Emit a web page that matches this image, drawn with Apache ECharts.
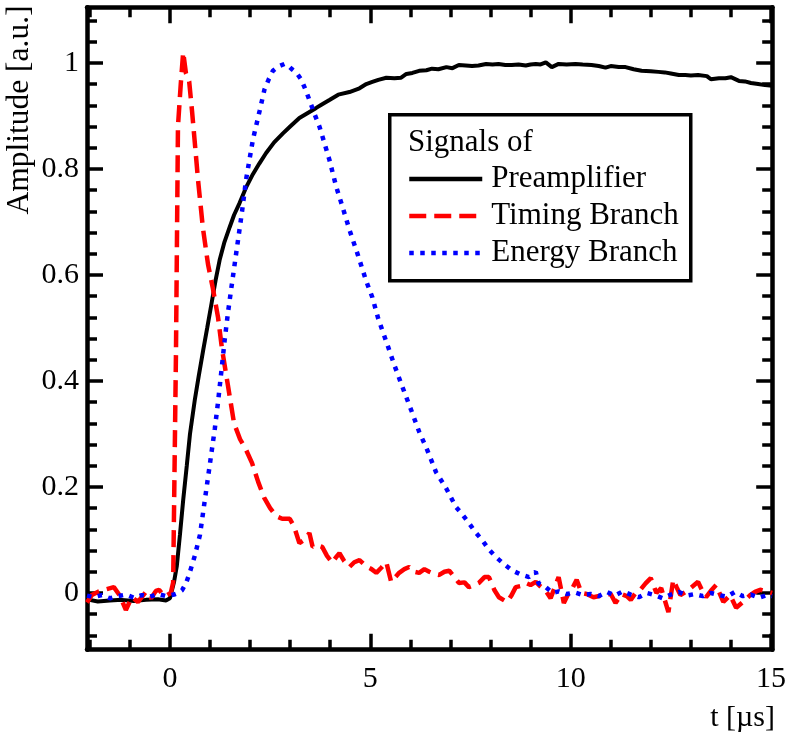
<!DOCTYPE html>
<html>
<head>
<meta charset="utf-8">
<script src="https://cdn.jsdelivr.net/npm/echarts@6/dist/echarts.min.js"></script>
<style>html,body{margin:0;padding:0;background:#fff}#c{width:789px;height:734px}</style>
</head>
<body>
<div id="c"></div>
<script>
// ---- data ----
const preampT = [-2.07,-1.8,-1.5,-1.2,-0.9,-0.6,-0.3,-0.1,0.0,0.05,0.1,0.17,0.25,0.33,0.42,0.5,0.62,0.72,0.83,0.93,1.04,1.14,1.24,1.36,1.49,1.6,1.74,1.9,2.07,2.23,2.4,2.6,2.82,3.0,3.23,3.45,3.65,3.8,3.98,4.2,4.48,4.73,4.9,5.05,5.2,5.4,5.6,5.77,5.9,6.05,6.22,6.4,6.54,6.7,6.9,7.05,7.21,7.38,7.54,7.7,7.89,8.05,8.2,8.37,8.53,8.7,8.88,9.0,9.13,9.25,9.38,9.53,9.7,9.9,10.12,10.3,10.52,10.7,10.87,11.0,11.2,11.37,11.57,11.77,12.0,12.19,12.35,12.5,12.7,12.86,13.0,13.18,13.4,13.5,13.7,13.86,14.0,14.2,14.35,14.5,14.68,14.85,15.03];
const preampV = [-0.012,-0.016,-0.014,-0.013,-0.015,-0.013,-0.012,-0.014,-0.01,0.005,0.02,0.05,0.11,0.175,0.24,0.30,0.364,0.41,0.458,0.50,0.547,0.59,0.628,0.662,0.69,0.713,0.736,0.765,0.79,0.81,0.83,0.85,0.867,0.88,0.896,0.906,0.915,0.922,0.93,0.94,0.945,0.952,0.96,0.964,0.968,0.972,0.971,0.972,0.979,0.981,0.985,0.986,0.989,0.988,0.992,0.99,0.996,0.995,0.994,0.995,0.998,0.997,0.998,0.996,0.996,0.997,0.995,0.997,0.998,0.997,1.001,0.992,0.998,0.997,0.998,0.997,0.996,0.994,0.991,0.994,0.992,0.992,0.988,0.985,0.984,0.983,0.982,0.98,0.977,0.977,0.976,0.977,0.975,0.969,0.971,0.971,0.973,0.966,0.965,0.962,0.96,0.958,0.957];

const timingT = [-2.07,-1.95,-1.8,-1.64,-1.4,-1.25,-1.1,-0.95,-0.8,-0.6,-0.47,-0.35,-0.27,-0.15,-0.07,0.02,0.08,0.15,0.2,0.27,0.33,0.4,0.48,0.55,0.62,0.7,0.82,0.95,1.07,1.2,1.3,1.45,1.6,1.75,1.9,2.05,2.2,2.35,2.5,2.65,2.8,2.99,3.1,3.23,3.35,3.48,3.56,3.68,3.8,3.92,4.05,4.15,4.23,4.35,4.48,4.6,4.73,4.9,5.03,5.15,5.28,5.4,5.52,5.72,5.85,5.97,6.1,6.22,6.35,6.47,6.6,6.72,6.85,6.97,7.1,7.21,7.35,7.46,7.6,7.71,7.85,7.96,8.1,8.21,8.41,8.52,8.63,8.75,8.88,9.0,9.13,9.25,9.38,9.5,9.7,9.83,9.95,10.05,10.15,10.27,10.4,10.57,10.75,10.88,11.0,11.12,11.27,11.4,11.5,11.62,11.74,11.87,12.0,12.14,12.26,12.44,12.56,12.65,12.74,12.87,12.99,13.18,13.28,13.38,13.5,13.63,13.81,13.98,14.13,14.3,14.48,14.6,14.73,14.93,15.03];
const timingV = [-0.018,-0.004,0.002,0.006,0.011,-0.005,-0.032,-0.008,-0.017,0.002,-0.01,0.004,0.006,-0.006,-0.004,0.0,0.02,0.45,0.88,0.96,1.02,0.98,0.965,0.91,0.85,0.78,0.69,0.62,0.575,0.52,0.46,0.39,0.32,0.29,0.27,0.245,0.21,0.18,0.16,0.145,0.14,0.14,0.125,0.094,0.1,0.113,0.087,0.09,0.087,0.07,0.057,0.068,0.075,0.06,0.049,0.058,0.062,0.05,0.045,0.038,0.048,0.058,0.021,0.038,0.045,0.049,0.04,0.038,0.045,0.04,0.036,0.034,0.04,0.042,0.03,0.019,0.02,0.011,0.015,0.019,0.03,0.03,0.005,-0.008,-0.017,-0.005,0.011,0.013,0.019,0.015,0.021,0.012,0.004,-0.01,0.03,-0.019,0.0,0.01,0.025,0.0,-0.002,-0.008,-0.005,-0.003,-0.002,-0.019,-0.002,-0.006,-0.013,0.0,0.006,0.018,0.028,0.0,0.009,-0.036,0.025,0.01,-0.004,0.002,0.009,0.021,0.005,-0.008,0.004,0.015,-0.017,-0.004,-0.028,-0.017,-0.004,0.002,0.006,0.002,0.0];

const energyT = [-2.07,-1.9,-1.7,-1.5,-1.3,-1.1,-0.9,-0.7,-0.5,-0.3,-0.1,0.1,0.2,0.3,0.4,0.5,0.62,0.75,0.87,1.0,1.12,1.2,1.3,1.37,1.45,1.55,1.67,1.8,1.9,2.07,2.24,2.36,2.47,2.57,2.7,2.86,2.96,3.06,3.17,3.28,3.38,3.48,3.6,3.73,3.85,3.98,4.15,4.3,4.48,4.68,4.9,5.05,5.2,5.4,5.6,5.8,6.02,6.22,6.42,6.64,6.89,7.14,7.3,7.46,7.62,7.79,7.95,8.13,8.33,8.53,8.75,8.96,9.13,9.2,9.38,9.55,9.7,9.9,10.1,10.3,10.5,10.7,10.9,11.1,11.3,11.5,11.7,11.9,12.1,12.3,12.5,12.7,12.9,13.1,13.3,13.5,13.7,13.9,14.1,14.3,14.5,14.7,14.9,15.03];
const energyV = [-0.005,-0.008,-0.004,-0.01,-0.006,-0.003,-0.009,-0.004,-0.007,-0.002,-0.006,-0.003,0.0,0.005,0.018,0.04,0.07,0.11,0.175,0.245,0.31,0.36,0.43,0.48,0.53,0.585,0.65,0.72,0.78,0.855,0.91,0.95,0.97,0.985,0.993,0.998,0.994,0.987,0.98,0.968,0.95,0.93,0.905,0.88,0.85,0.817,0.766,0.73,0.685,0.64,0.588,0.558,0.517,0.474,0.43,0.389,0.345,0.304,0.27,0.228,0.198,0.162,0.148,0.132,0.115,0.1,0.083,0.068,0.055,0.043,0.035,0.03,0.04,0.018,0.011,0.0,0.003,-0.002,0.001,-0.004,-0.002,-0.006,0.002,-0.005,0.003,-0.003,-0.008,0.0,-0.004,-0.01,-0.003,0.002,-0.005,-0.002,-0.006,0.0,-0.004,-0.007,0.002,-0.006,-0.003,-0.009,-0.004,-0.006];

const seriesNames = ['Preamplifier', 'Timing Branch', 'Energy Branch'];
const legendTitle = 'Signals of';
const xMajor = [0, 5, 10, 15];
const xMinor = [-2, -1, 1, 2, 3, 4, 6, 7, 8, 9, 11, 12, 13, 14];
const yMajor = [0, 0.2, 0.4, 0.6, 0.8, 1];
const yMinor = [-0.08, -0.04, 0.04, 0.08, 0.12, 0.16, 0.24, 0.28, 0.32, 0.36, 0.44, 0.48, 0.52, 0.56, 0.64, 0.68, 0.72, 0.76, 0.84, 0.88, 0.92, 0.96, 1.04, 1.08];
const xRange = [-2.07, 15.03];
const yRange = [-0.107, 1.105];

// ---- chart ----
const FONT = 'Liberation Serif';
const zip = (t, v) => t.map((x, i) => [x, v[i]]);
const lineW = 4.5, tickW = 3.5, majorLen = 16, minorLen = 10;

function mkX(pos, ticks, len, labels, line) {
  return {
    type: 'value', position: pos, min: xRange[0], max: xRange[1],
    axisLine: { show: line, onZero: false, lineStyle: { color: '#000', width: lineW } },
    axisTick: { show: true, inside: true, length: len, customValues: ticks, lineStyle: { color: '#000', width: tickW } },
    axisLabel: labels ? { show: true, customValues: ticks, margin: 14, color: '#000', fontFamily: FONT, fontSize: 30 } : { show: false },
    splitLine: { show: false }
  };
}
function mkY(pos, ticks, len, labels, line) {
  return {
    type: 'value', position: pos, min: yRange[0], max: yRange[1],
    axisLine: { show: line, onZero: false, lineStyle: { color: '#000', width: lineW } },
    axisTick: { show: true, inside: true, length: len, customValues: ticks, lineStyle: { color: '#000', width: tickW } },
    axisLabel: labels ? { show: true, customValues: ticks, margin: 8, color: '#000', fontFamily: FONT, fontSize: 30 } : { show: false },
    splitLine: { show: false }
  };
}

const chart = echarts.init(document.getElementById('c'), null, { renderer: 'canvas' });
chart.setOption({
  animation: false,
  backgroundColor: '#fff',
  grid: { left: 87, right: 14.5, top: 7.2, bottom: 84.3, containLabel: false },
  xAxis: [
    mkX('bottom', xMajor, majorLen, true, true),
    mkX('bottom', xMinor, minorLen, false, false),
    mkX('top', xMajor, majorLen, false, true),
    mkX('top', xMinor, minorLen, false, false)
  ],
  yAxis: [
    mkY('left', yMajor, majorLen, true, true),
    mkY('left', yMinor, minorLen, false, false),
    mkY('right', yMajor, majorLen, false, true),
    mkY('right', yMinor, minorLen, false, false)
  ],
  legend: {
    orient: 'vertical', left: 402, top: 158.5, z: 10,
    itemWidth: 73, itemHeight: 31, itemGap: 6,
    textStyle: { fontFamily: FONT, fontSize: 31, color: '#000', padding: [0, 0, 0, 4] },
    itemStyle: { opacity: 0 },
    lineStyle: { width: 4.5 },
    data: seriesNames
  },
  graphic: [
    { type: 'rect', left: 388, top: 113, shape: { width: 301, height: 166 }, style: { fill: 'rgba(0,0,0,0)', stroke: '#000', lineWidth: 3.5 }, z: 1 },
    { type: 'text', left: 408, top: 127.5, style: { text: legendTitle, fontFamily: FONT, fontSize: 31, fill: '#000' }, z: 6 },
    { type: 'text', x: 20, y: 110, rotation: Math.PI / 2, style: { text: 'Amplitude [a.u.]', fontFamily: FONT, fontSize: 31.5, fill: '#000', align: 'center', verticalAlign: 'middle' } },
    { type: 'text', right: 14, top: 703, style: { text: 't [\u00b5s]', fontFamily: FONT, fontSize: 30, fill: '#000' } }
  ],
  series: [
    { name: seriesNames[0], type: 'line', data: zip(preampT, preampV), symbol: 'none', lineStyle: { color: '#000', width: 4, type: 'solid' }, itemStyle: { color: '#000' }, z: 2 },
    { name: seriesNames[1], type: 'line', data: zip(timingT, timingV), symbol: 'none', lineStyle: { color: '#ff0000', width: 4.5, type: [17, 8] }, itemStyle: { color: '#ff0000' }, z: 3 },
    { name: seriesNames[2], type: 'line', data: zip(energyT, energyV), symbol: 'none', lineStyle: { color: '#0000ff', width: 4.5, type: [4.5, 6.5] }, itemStyle: { color: '#0000ff' }, z: 4 }
  ]
});
</script>
</body>
</html>
